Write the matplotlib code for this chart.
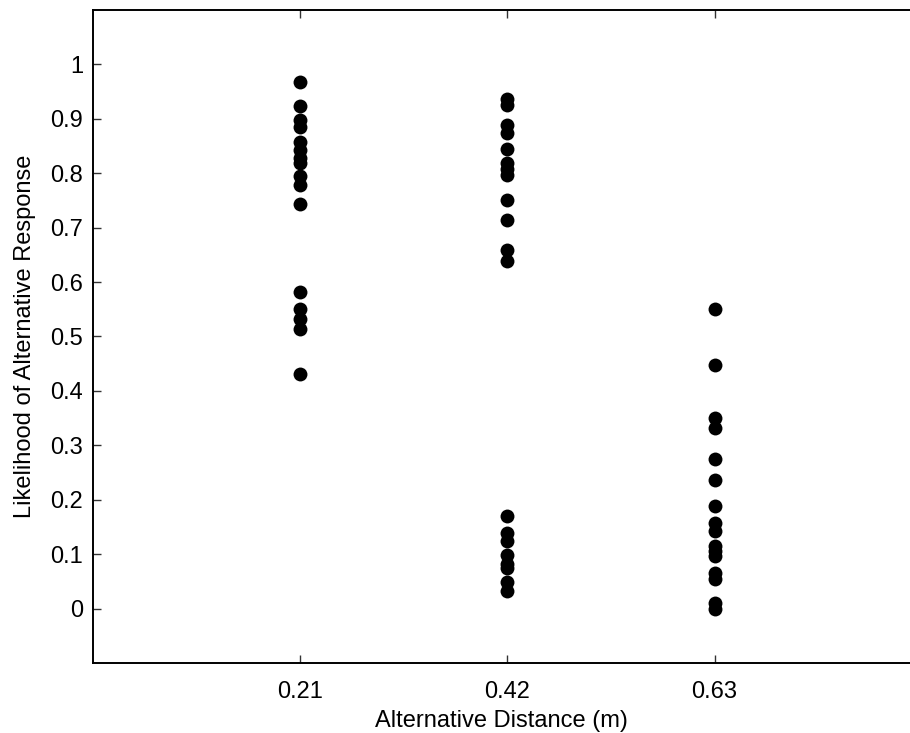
import matplotlib
matplotlib.use("Agg")
import matplotlib.pyplot as plt

plt.rcParams['font.family'] = ['Liberation Sans', 'DejaVu Sans']

distances = [0.21, 0.42, 0.63]

# likelihood of alternative response per participant, one list per distance
resp_021 = [0.967, 0.924, 0.898, 0.885, 0.858, 0.843, 0.828, 0.819, 0.794,
            0.779, 0.743, 0.582, 0.550, 0.532, 0.514, 0.431]
resp_042 = [0.937, 0.926, 0.889, 0.874, 0.844, 0.819, 0.808, 0.797, 0.750,
            0.714, 0.659, 0.639, 0.170, 0.139, 0.125, 0.099, 0.082, 0.074,
            0.048, 0.032]
resp_063 = [0.550, 0.448, 0.350, 0.332, 0.275, 0.237, 0.189, 0.157, 0.142,
            0.115, 0.105, 0.096, 0.065, 0.055, 0.010, 0.000]

yticks = [0, 0.1, 0.2, 0.3, 0.4, 0.5, 0.6, 0.7, 0.8, 0.9, 1]
yticklabels = ['0', '0.1', '0.2', '0.3', '0.4', '0.5', '0.6', '0.7', '0.8', '0.9', '1']

fig = plt.figure(figsize=(9.10, 7.33), dpi=100)
ax = fig.add_axes([0.1019, 0.0955, 0.8981, 0.8909])

for d, vals in zip(distances, [resp_021, resp_042, resp_063]):
    ax.plot([d] * len(vals), vals, 'o', color='black', markersize=10,
            markeredgewidth=0, clip_on=False)

ax.set_xlim(0, 0.828)
ax.set_ylim(-0.1, 1.1)
ax.set_xticks(distances)
ax.set_xticklabels(['0.21', '0.42', '0.63'])
ax.set_yticks(yticks)
ax.set_yticklabels(yticklabels)

ax.spines['right'].set_visible(False)
for s in ['left', 'top', 'bottom']:
    ax.spines[s].set_linewidth(1.4)
ax.tick_params(direction='in', length=6, width=1, top=True, right=False,
               labelsize=17, color='#333333')
ax.tick_params(axis='y', pad=7)
ax.tick_params(axis='x', pad=13)

ax.set_xlabel('Alternative Distance (m)', fontsize=17, labelpad=5)
ax.set_ylabel('Likelihood of Alternative Response', fontsize=17, labelpad=10)

fig.savefig('out.png', dpi=100)
